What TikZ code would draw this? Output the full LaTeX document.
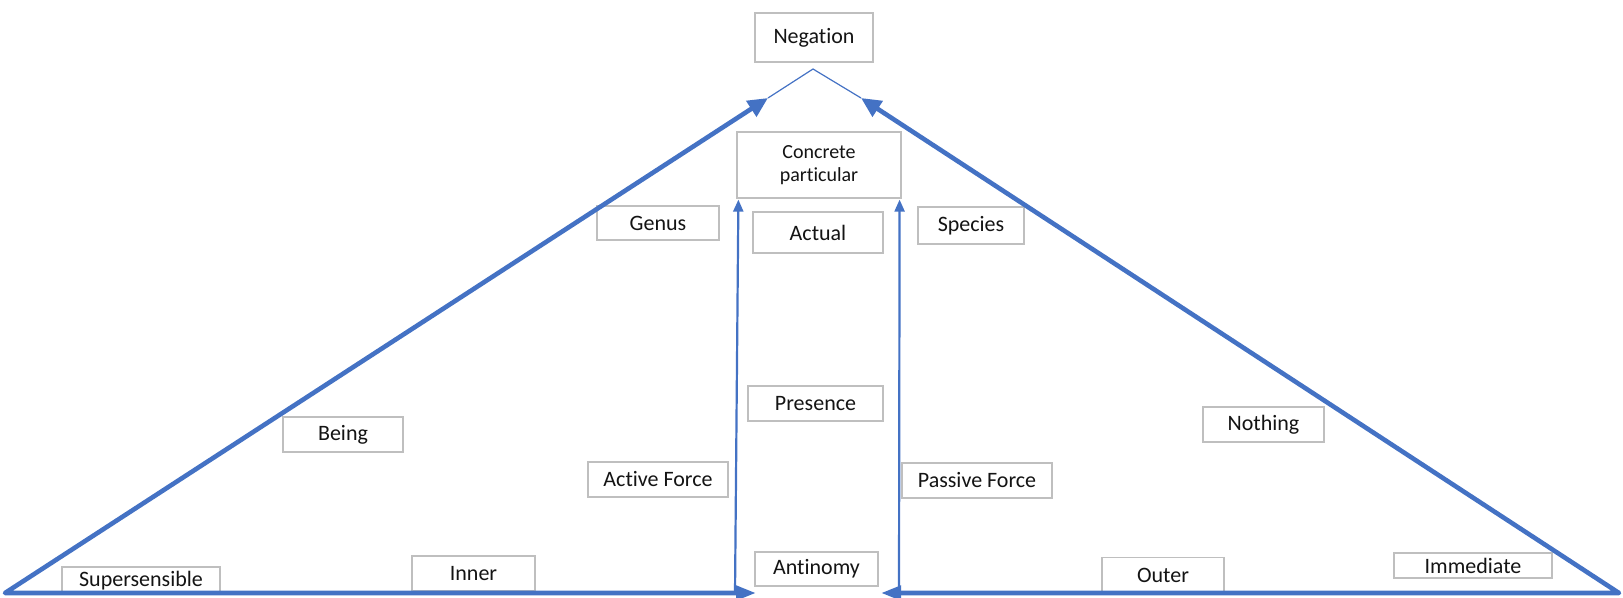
\documentclass[tikz,border=0pt]{standalone}
\usepackage{fontspec}
\setmainfont{Carlito}[Ligatures=NoCommon]
\usetikzlibrary{arrows.meta}
\definecolor{blu}{RGB}{68,114,196}
\definecolor{boxgray}{RGB}{191,191,191}
\definecolor{txt}{RGB}{20,20,20}
\begin{document}
\begin{tikzpicture}[x=0.5pt,y=-0.5pt,
  box/.style={draw=boxgray,line width=0.6pt,fill=white,inner sep=0pt,align=center,
    text=txt,font=\fontsize{11}{13}\selectfont},
  sidearrow/.style={draw=blu,line width=2.3pt,line join=round,
    {Triangle[length=10pt,width=9pt]}-{Triangle[length=10pt,width=7pt]}},
  vertarrow/.style={draw=blu,line width=1.1pt,-{Triangle[length=6pt,width=5pt]}},
  apexline/.style={draw=blu,line width=0.6pt}]
\useasboundingbox (0,0) rectangle (1623,598);

% boxes
\node[box,minimum width=59pt,minimum height=24.5pt] (neg) at (814,37.5) {Negation};
\node[box,minimum width=82pt,minimum height=33pt,font=\fontsize{10}{11.5}\selectfont] (cp) at (819,165) {Concrete\\particular};
\node[box,minimum width=61pt,minimum height=17pt] (genus) at (658,223) {Genus};
\node[box,minimum width=65pt,minimum height=20.5pt] (actual) at (818,232.5) {Actual};
\node[box,minimum width=53pt,minimum height=18.5pt] (species) at (971,225.5) {Species};
\node[box,minimum width=60pt,minimum height=17.5pt] (being) at (343,434.5) {Being};
\node[box,minimum width=67.5pt,minimum height=17.5pt] (presence) at (815.5,403.5) {Presence};
\node[box,minimum width=60.5pt,minimum height=17.5pt] (nothing) at (1263.5,424.5) {Nothing};
\node[box,minimum width=70pt,minimum height=17.5pt] (active) at (658,479.5) {Active Force};
\node[box,minimum width=75pt,minimum height=17.5pt] (passive) at (977,480.5) {Passive Force};
\node[box,minimum width=79pt,minimum height=13.5pt] (super) at (141,580.5) {Supersensible};
\node[box,minimum width=61.5pt,minimum height=17.5pt] (inner) at (473.5,573.5) {Inner};
\node[box,minimum width=61.5pt,minimum height=17pt] (antinomy) at (816.5,569) {Antinomy};
\node[box,minimum width=61pt,minimum height=17.5pt] (outer) at (1163,575) {Outer};
\node[box,minimum width=79pt,minimum height=12.5pt] (immediate) at (1473,565.5) {Immediate};

% key points
\coordinate (apex) at (813,69);
\coordinate (tipL) at (768,98);
\coordinate (tipR) at (861,98);
\coordinate (BL) at (5,593);
\coordinate (BR) at (1619,593);
\coordinate (baseL) at (756,593);
\coordinate (baseR) at (881,593);
\coordinate (vL) at (735,594);
\coordinate (vR) at (899,594);

% connectors
\draw[apexline] (tipL) -- (apex) -- (tipR);
\draw[sidearrow] (tipL) -- (BL) -- (baseL);
\draw[sidearrow] (tipR) -- (BR) -- (baseR);
\draw[vertarrow] (vL) -- ([xshift=1pt,yshift=-0.5pt]cp.south west);
\draw[vertarrow] (vR) -- ([xshift=-1pt,yshift=-0.5pt]cp.south east);
\end{tikzpicture}
\end{document}
